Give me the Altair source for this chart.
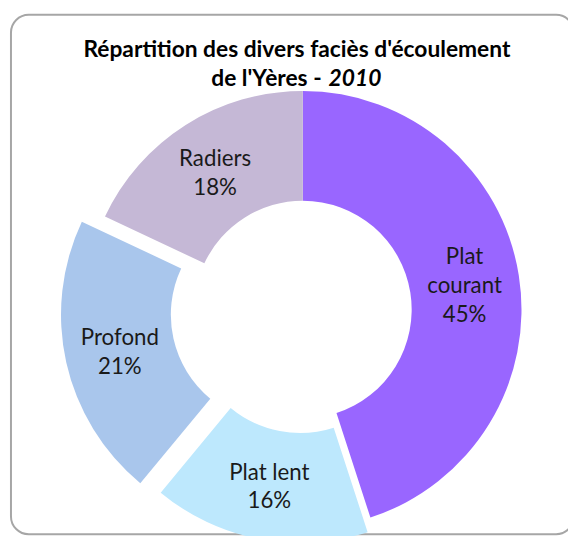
import altair as alt
import pandas as pd

# ---- data ----
categories = ["Plat courant", "Plat lent", "Profond", "Radiers"]
label_text = ["Plat\ncourant", "Plat lent", "Profond", "Radiers"]
percent = [45, 16, 21, 18]
colors = ["#9966FF", "#BDE8FD", "#A9C6EC", "#C5B8D6"]
order = [0, 1, 2, 3]

title_line1 = "Répartition des divers faciès d'écoulement"
title_line2a = "de l'Yères -"
title_line2b = "2010"

df = pd.DataFrame({
    "cat": categories,
    "label": label_text,
    "pct": percent,
    "ord": order,
})

W, H = 566, 528
CX, CY = 298, 302
R_OUT, R_IN = 221, 110
R_LAB = (R_OUT + R_IN) / 2
FONT = "Lato"
LH = 29

explode_expr = "datum.cat == 'Profond' ? 24 : (datum.cat == 'Plat lent' ? 15 : 0)"

base = alt.Chart(df).transform_joinaggregate(
    total="sum(pct)"
).transform_window(
    cum="sum(pct)", sort=[alt.SortField("ord")], frame=[None, 0]
).transform_calculate(
    t0="2*PI*(datum.cum - datum.pct)/datum.total",
    t1="2*PI*datum.cum/datum.total",
).transform_calculate(
    mid="(datum.t0 + datum.t1)/2",
    off=explode_expr,
).transform_calculate(
    cx=f"{CX} + datum.off*sin(datum.mid)",
    cy=f"{CY} - datum.off*cos(datum.mid)",
).transform_calculate(
    txt="datum.label + '\\n' + datum.pct + '%'",
).transform_calculate(
    nl="length(split(datum.txt, '\\n'))",
).transform_calculate(
    lx=f"datum.cx + {R_LAB}*sin(datum.mid)",
    ly=f"datum.cy - {R_LAB}*cos(datum.mid) - (datum.nl - 1)*{LH}/2 + 2",
)

arcs = base.mark_arc(innerRadius=R_IN, outerRadius=R_OUT, stroke=None).encode(
    theta=alt.Theta("t0:Q", scale=None, stack=None),
    theta2="t1:Q",
    x=alt.X("cx:Q", scale=None, axis=None),
    y=alt.Y("cy:Q", scale=None, axis=None),
    color=alt.Color("cat:N", scale=alt.Scale(domain=categories, range=colors), legend=None),
)

labels = base.mark_text(
    font=FONT, fontSize=22.5, lineBreak="\n", lineHeight=LH, color="#1a1a1a",
    align="center", baseline="middle",
).encode(
    x=alt.X("lx:Q", scale=None, axis=None),
    y=alt.Y("ly:Q", scale=None, axis=None),
    text="txt:N",
)

one = alt.Data(values=[{"a": 1}])

frame = alt.Chart(one).mark_rect(
    filled=False, stroke="#A6A6A6", strokeWidth=2, cornerRadius=18
).encode(
    x=alt.value(3), x2=alt.value(572), y=alt.value(4), y2=alt.value(529)
)

t1 = alt.Chart(one).mark_text(
    font=FONT, fontSize=23, fontWeight="bold", color="#000000", align="center", baseline="alphabetic"
).encode(x=alt.value(292), y=alt.value(47), text=alt.value(title_line1))

t2a = alt.Chart(one).mark_text(
    font=FONT, fontSize=23, fontWeight="bold", color="#000000", align="right", baseline="alphabetic"
).encode(x=alt.value(317), y=alt.value(76), text=alt.value(title_line2a))

t2b = alt.Chart(one).mark_text(
    font=FONT, fontSize=23, fontWeight="bold", fontStyle="italic", color="#000000",
    align="left", baseline="alphabetic"
).encode(x=alt.value(324), y=alt.value(76), text=alt.value(title_line2b))

chart = alt.layer(frame, arcs, labels, t1, t2a, t2b).properties(
    width=W, height=H, padding=0, autosize=alt.AutoSizeParams(type="none"),
    background="white",
).configure_view(stroke=None)

chart.save("out.html", embed_options={"renderer": "svg", "actions": False})
